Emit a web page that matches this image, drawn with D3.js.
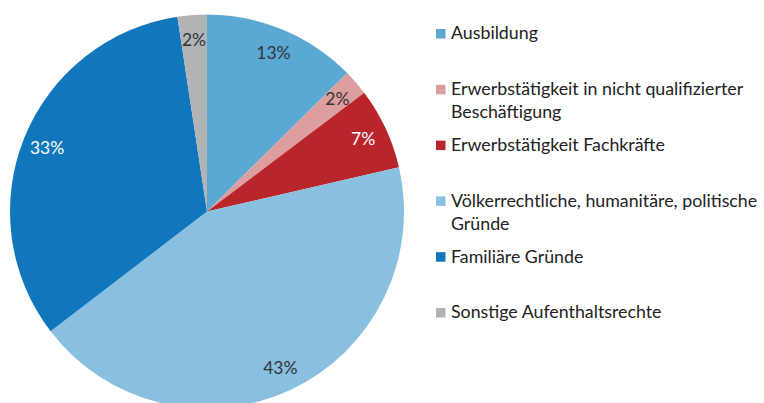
<!DOCTYPE html>
<html><head><meta charset="utf-8">
<script src="https://cdn.jsdelivr.net/npm/d3@7"></script>
<style>body{margin:0;background:#fff}svg{display:block}</style>
</head><body>
<svg id="c" width="764" height="403"></svg>
<script>
const categories = ["Ausbildung","Erwerbstätigkeit in nicht qualifizierter Beschäftigung","Erwerbstätigkeit Fachkräfte","Völkerrechtliche, humanitäre, politische Gründe","Familiäre Gründe","Sonstige Aufenthaltsrechte"];
const legendLines = [["Ausbildung"],["Erwerbstätigkeit in nicht qualifizierter","Beschäftigung"],["Erwerbstätigkeit Fachkräfte"],["Völkerrechtliche, humanitäre, politische","Gründe"],["Familiäre Gründe"],["Sonstige Aufenthaltsrechte"]];
const values = [12.6, 2.1, 6.7, 43.2, 33.0, 2.4];
const colors = ["#5ba8d3","#dc9e9f","#b8262b","#89c0e0","#1077bd","#b1b3b4"];
const labelColors = ["#333","#333","#fff","#333","#fff","#333"];

const font = "Lato, 'Source Sans Pro', sans-serif";
const svg = d3.select("#c");
const cx = 207, cy = 211.5, r = 197;
const data = categories.map((c,i)=>({c, v:values[i], i}));
const pie = d3.pie().value(d=>d.v).sort(null);
const arcs = pie(data);
const arc = d3.arc().innerRadius(0).outerRadius(r);
const lab = d3.arc().innerRadius(r*0.875).outerRadius(r*0.875);
const g = svg.append("g").attr("transform",`translate(${cx},${cy})`);
g.selectAll("path").data(arcs).join("path").attr("d",arc).attr("fill",d=>colors[d.data.i]);
g.selectAll("text").data(arcs).join("text")
 .attr("x",d=>lab.centroid(d)[0]).attr("y",d=>lab.centroid(d)[1])
 .attr("text-anchor","middle").attr("dominant-baseline","central")
 .attr("font-family",font).attr("font-size",17.5).attr("fill",d=>labelColors[d.data.i])
 .text(d=>Math.round(d.data.v)+"%");

const ly = d3.scalePoint().domain(categories).range([39.3, 318.3]);
const lg = svg.append("g");
categories.forEach((c,i)=>{
  const y = ly(c);
  lg.append("rect").attr("x",436).attr("y",y-10.3).attr("width",9.5).attr("height",9.5).attr("fill",colors[i]);
  const t = lg.append("text").attr("x",451).attr("y",y).attr("font-family",font).attr("font-size",17.8).attr("fill","#222");
  legendLines[i].forEach((l,j)=>t.append("tspan").attr("x",451).attr("dy", j===0?0:23).text(l));
});
</script>
</body></html>
